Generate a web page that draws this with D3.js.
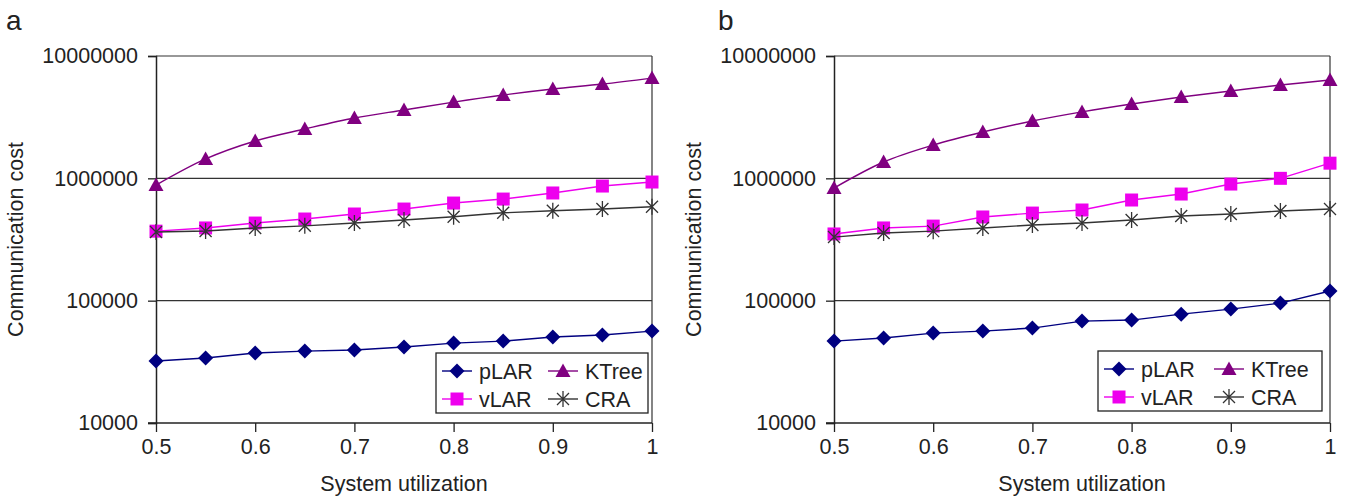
<!DOCTYPE html>
<html>
<head>
<meta charset="utf-8">
<script src="https://d3js.org/d3.v7.min.js"></script>
<style>
  body { margin: 0; background: #fff; }
  svg text { font-family: "Liberation Sans", Arial, sans-serif; fill: #222; }
</style>
</head>
<body>
<svg id="chart" width="1345" height="498"></svg>
<script>
// system utilization values (x)
const utilization = [0.5, 0.55, 0.6, 0.65, 0.7, 0.75, 0.8, 0.85, 0.9, 0.95, 1.0];
const xTicks = [0.5, 0.6, 0.7, 0.8, 0.9, 1];
const yTicks = [10000, 100000, 1000000, 10000000];

// panel a
const aPLAR  = [32100, 34000, 37300, 38700, 39500, 41800, 45000, 46700, 50400, 52400, 56400];
const aVLAR  = [370000, 393000, 431000, 465000, 511000, 561000, 628000, 677000, 759000, 865000, 933000];
const aKTree = [880000, 1440000, 2020000, 2530000, 3110000, 3620000, 4200000, 4800000, 5370000, 5900000, 6600000];
const aCRA   = [364000, 371000, 393000, 409000, 431000, 457000, 485000, 523000, 543000, 561000, 585000];

// panel b
const bPLAR  = [46700, 49500, 54300, 56400, 59700, 68100, 69400, 77600, 85300, 95500, 120000];
const bVLAR  = [351000, 393000, 407000, 483000, 520000, 551000, 665000, 744000, 898000, 1000000, 1330000];
const bKTree = [833000, 1360000, 1870000, 2390000, 2940000, 3490000, 4050000, 4620000, 5180000, 5790000, 6360000];
const bCRA   = [331000, 357000, 370000, 393000, 415000, 431000, 457000, 492000, 511000, 541000, 561000];

const seriesStyle = {
  pLAR:  { color: "#000080", marker: "diamond" },
  vLAR:  { color: "#ee00ee", marker: "square" },
  KTree: { color: "#800080", marker: "triangle", smooth: true },
  CRA:   { color: "#333333", marker: "star" }
};
const legendOrder = [["pLAR", "KTree"], ["vLAR", "CRA"]];

const svg = d3.select("#chart");

// marker shapes, centred at 0,0
function markerPath(type) {
  if (type == "diamond") return "M0,-7.5L7.5,0L0,7.5L-7.5,0Z";
  if (type == "square") return "M-6.5,-6.5H6.5V6.5H-6.5Z";
  if (type == "triangle") return "M0,-7.5L7.5,6L-7.5,6Z";
  return "M-6,-6L6,6M-6,6L6,-6M0,-8V8";
}

function drawMarker(g, type, color, x, y) {
  const p = g.append("path")
    .attr("d", markerPath(type))
    .attr("transform", "translate(" + x + "," + y + ")");
  if (type == "star") p.attr("fill", "none").attr("stroke", color).attr("stroke-width", 1.3);
  else p.attr("fill", color).attr("stroke", "none");
}

function drawPanel(opts) {
  const x = d3.scaleLinear().domain([0.5, 1]).range([opts.left, opts.right]);
  const y = d3.scaleLog().domain([10000, 10000000]).range([opts.bottom, opts.top]);
  const g = svg.append("g");

  // horizontal gridlines at each decade
  g.selectAll(".grid").data(yTicks.slice(1)).enter().append("line")
    .attr("x1", opts.left).attr("x2", opts.right)
    .attr("y1", d => y(d)).attr("y2", d => y(d))
    .attr("stroke", "#333").attr("stroke-width", 1.2);
  // right border
  g.append("line").attr("x1", opts.right).attr("x2", opts.right)
    .attr("y1", opts.top).attr("y2", opts.bottom)
    .attr("stroke", "#333").attr("stroke-width", 1.2);

  // axes
  const yAxis = d3.axisLeft(y).tickValues(yTicks).tickFormat(d3.format("d")).tickSize(8).tickPadding(10);
  const gy = g.append("g").attr("transform", "translate(" + opts.left + ",0)").call(yAxis);
  const xAxis = d3.axisBottom(x).tickValues(xTicks).tickFormat(d => d == 1 ? "1" : d3.format(".1f")(d)).tickSize(9).tickPadding(7);
  const gx = g.append("g").attr("transform", "translate(0," + opts.bottom + ")").call(xAxis);
  [gx, gy].forEach(a => {
    a.select(".domain").attr("stroke", "#222").attr("stroke-width", 1.5);
    a.selectAll(".tick line").attr("stroke", "#222").attr("stroke-width", 1.3);
    a.selectAll("text").attr("font-size", 21.5).attr("fill", "#333")
      .attr("font-family", "Liberation Sans, Arial, sans-serif");
  });
  gx.select(".domain").attr("d", "M" + (opts.left - 8) + ",0H" + opts.right);

  // titles
  g.append("text").attr("x", (opts.left + opts.right) / 2).attr("y", 491)
    .attr("text-anchor", "middle").attr("font-size", 21.5).attr("fill", "#333").text("System utilization");
  g.append("text")
    .attr("transform", "translate(" + (opts.left - 133) + "," + ((opts.top + opts.bottom) / 2) + ") rotate(-90)")
    .attr("text-anchor", "middle").attr("font-size", 21.5).attr("fill", "#333").text("Communication cost");
  g.append("text").attr("x", opts.labelX).attr("y", 30).attr("font-size", 28).attr("fill", "#111").text(opts.label);

  // series
  Object.keys(opts.series).forEach(name => {
    const st = seriesStyle[name];
    const vals = opts.series[name];
    const pts = utilization.map((u, i) => [x(u), y(vals[i])]);
    const line = d3.line().curve(st.smooth ? d3.curveCatmullRom.alpha(0) : d3.curveLinear);
    g.append("path").attr("d", line(pts)).attr("fill", "none")
      .attr("stroke", st.color).attr("stroke-width", 1.4);
    pts.forEach(p => drawMarker(g, st.marker, st.color, p[0], p[1]));
  });

  // legend
  const lg = g.append("g").attr("transform", "translate(" + opts.legend[0] + "," + opts.legend[1] + ")");
  lg.append("rect").attr("width", opts.legend[2]).attr("height", 60)
    .attr("fill", "#fff").attr("stroke", "#222").attr("stroke-width", 1.3);
  legendOrder.forEach((row, r) => {
    row.forEach((name, c) => {
      const st = seriesStyle[name];
      const lx = 6 + c * opts.legend[3], ly = 18 + r * 28;
      lg.append("line").attr("x1", lx).attr("x2", lx + 30).attr("y1", ly).attr("y2", ly)
        .attr("stroke", st.color).attr("stroke-width", 1.4);
      drawMarker(lg, st.marker, st.color, lx + 15, ly);
      lg.append("text").attr("x", lx + 37).attr("y", ly + 7.5).attr("font-size", 21.5).attr("fill", "#333").text(name);
    });
  });
}

drawPanel({
  left: 156, right: 652, top: 56, bottom: 423, label: "a", labelX: 6,
  legend: [436, 353, 212, 106],
  series: { pLAR: aPLAR, vLAR: aVLAR, KTree: aKTree, CRA: aCRA }
});
drawPanel({
  left: 834, right: 1330, top: 56, bottom: 423, label: "b", labelX: 718,
  legend: [1098, 351, 224, 110],
  series: { pLAR: bPLAR, vLAR: bVLAR, KTree: bKTree, CRA: bCRA }
});
</script>
</body>
</html>
